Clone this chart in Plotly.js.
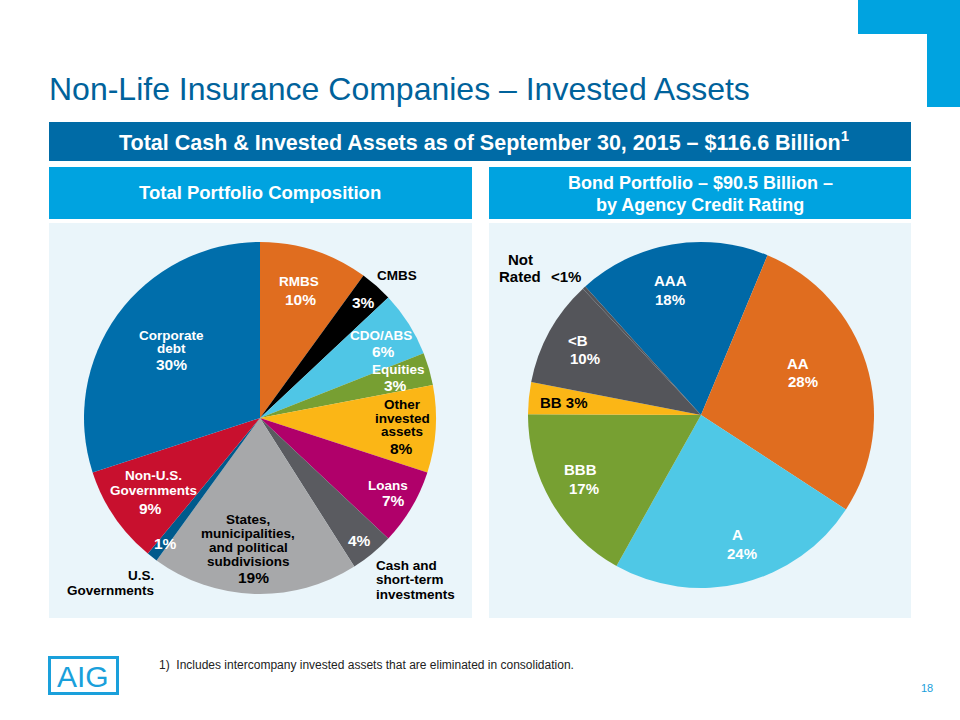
<!DOCTYPE html>
<html>
<head>
<meta charset="utf-8">
<script src="https://cdn.plot.ly/plotly-3.0.1.min.js"></script>
<style>
html,body{margin:0;padding:0;background:#ffffff;}
#chart{width:960px;height:720px;}
</style>
</head>
<body>
<div id="chart"></div>
<script>
// ---- Data ----
const portfolioLabels = ["RMBS", "CMBS", "CDO/ABS", "Equities", "Other invested assets", "Loans",
  "Cash and short-term investments", "States, municipalities, and political subdivisions",
  "U.S. Governments", "Non-U.S. Governments", "Corporate debt"];
const portfolioValues = [10, 3, 6, 3, 8, 7, 4, 19, 1, 9, 30];
const portfolioPctText = ["10%", "3%", "6%", "3%", "8%", "7%", "4%", "19%", "1%", "9%", "30%"];

const ratingLabels = ["AAA", "AA", "A", "BBB", "BB", "<B", "Not Rated"];
const ratingValues = [18, 28, 24, 17, 3, 10, 0.3];
const ratingPctText = ["18%", "28%", "24%", "17%", "3%", "10%", "<1%"];

// ---- Styling ----
const portfolioColors = ["#E06D1F", "#000000", "#4FC6E6", "#779F32", "#FBB616", "#B0006A",
  "#5A5B60", "#A7A8AA", "#005A8C", "#C8102E", "#006EAB"];
const ratingColors = ["#0069A7", "#E06D1F", "#4FC8E6", "#77A032", "#FBB616", "#54555A", "#54555A"];

const W = 960, H = 720;
const px = x => x / W;
const py = y => 1 - y / H;

const SANS = "Liberation Sans, Arial, sans-serif";

const traces = [
  {
    type: "pie", labels: portfolioLabels, values: portfolioValues, sort: false,
    direction: "clockwise", rotation: 0, textinfo: "none", hoverinfo: "skip",
    marker: {colors: portfolioColors, line: {width: 0}},
    domain: {x: [px(84), px(436)], y: [py(594), py(242)]}
  },
  {
    type: "pie", labels: ratingLabels, values: ratingValues, sort: false,
    direction: "clockwise", rotation: -42, textinfo: "none", hoverinfo: "skip",
    marker: {colors: ratingColors, line: {width: 0}},
    domain: {x: [px(528), px(874)], y: [py(588), py(242)]}
  }
];

function rect(x0, y0, x1, y1, color, line) {
  return {type: "rect", xref: "paper", yref: "paper", layer: "below",
    x0: px(x0), x1: px(x1), y0: py(y1), y1: py(y0),
    fillcolor: color, line: line || {width: 0}};
}

const shapes = [
  rect(858, 0, 960, 34, "#00A3E0"),
  rect(927, 0, 960, 107, "#00A3E0"),
  rect(49, 122, 911, 161, "#006BA6"),
  rect(49, 167, 472, 219, "#00A3E0"),
  rect(489, 167, 911, 219, "#00A3E0"),
  rect(49, 223, 472, 618, "#EAF5FA"),
  rect(489, 223, 911, 618, "#EAF5FA"),
  rect(49.5, 657.5, 117.5, 693.5, "rgba(0,0,0,0)", {color: "#1AA0DB", width: 3})
];

function ann(text, x, y, opts) {
  opts = opts || {};
  return Object.assign({
    text: text, xref: "paper", yref: "paper", x: px(x), y: py(y),
    xanchor: "center", yanchor: "middle", showarrow: false,
    font: {family: SANS, size: 14, color: "#ffffff", weight: "bold"}
  }, opts);
}
function lbl(text, x, y, color, size, extra) {
  return ann(text, x, y, Object.assign({font: {family: SANS, size: size || 13.5, color: color, weight: "bold"}}, extra || {}));
}
// one annotation per text line so the line spacing matches the reference
function lines(arr, x, ys, color, size, extra) {
  return arr.map((t, i) => lbl(t, x, ys[i], color, size, extra));
}

const WH = "#ffffff", BK = "#000000";
const L = 13.5, P = 15.5, R = 15;
const annotations = [
  // banner and headers
  ann("Total Cash & Invested Assets as of September 30, 2015 – $116.6 Billion<sup>1</sup>", 484, 141,
    {font: {family: SANS, size: 21.5, color: WH, weight: "bold"}}),
  ann("Total Portfolio Composition", 260, 193, {font: {family: SANS, size: 18.5, color: WH, weight: "bold"}}),
  ann("Bond Portfolio – $90.5 Billion –", 700, 183, {font: {family: SANS, size: 18, color: WH, weight: "bold"}}),
  ann("by Agency Credit Rating", 700, 205, {font: {family: SANS, size: 18, color: WH, weight: "bold"}}),

  // left pie labels
  lbl(portfolioLabels[0], 299, 282, WH, L), lbl(portfolioPctText[0], 300, 299, WH, P),
  lbl(portfolioLabels[1], 397, 275, BK, L), lbl(portfolioPctText[1], 363, 302, WH, P),
  lbl(portfolioLabels[2], 381, 335, WH, L), lbl(portfolioPctText[2], 383, 351, WH, P),
  lbl(portfolioLabels[3], 398, 370, WH, L), lbl(portfolioPctText[3], 395, 385, WH, P),
  ...lines(["Other", "invested", "assets"], 402, [404, 418, 431], BK, L),
  lbl(portfolioPctText[4], 401, 448, BK, P),
  lbl(portfolioLabels[5], 388, 485, WH, L), lbl(portfolioPctText[5], 393, 500, WH, P),
  lbl(portfolioPctText[6], 359, 540, WH, P),
  ...lines(["Cash and", "short-term", "investments"], 374, [565, 579, 594], BK, L, {xanchor: "left"}),
  ...lines(["States,", "municipalities,", "and political", "subdivisions"], 248, [519, 533, 547, 561], BK, L),
  lbl(portfolioPctText[7], 253, 577, BK, P),
  lbl(portfolioPctText[8], 165, 543, WH, P),
  ...lines(["U.S.", "Governments"], 156, [575, 590], BK, L, {xanchor: "right"}),
  ...lines(["Non-U.S.", "Governments"], 153, [475, 490], WH, L),
  lbl(portfolioPctText[9], 150, 508, WH, P),
  ...lines(["Corporate", "debt"], 171, [335, 348], WH, L),
  lbl(portfolioPctText[10], 171, 364, WH, P),

  // right pie labels
  ...lines(["Not", "Rated"], 520, [259, 276], BK, R),
  lbl(ratingPctText[6], 566, 276, BK, R),
  lbl(ratingLabels[0], 670, 281, WH, R), lbl(ratingPctText[0], 670, 299, WH, R),
  lbl(ratingLabels[1], 798, 363, WH, R), lbl(ratingPctText[1], 803, 381, WH, R),
  lbl(ratingLabels[2], 737, 534, WH, R), lbl(ratingPctText[2], 742, 553, WH, R),
  lbl(ratingLabels[3], 580, 469, WH, R), lbl(ratingPctText[3], 584, 488, WH, R),
  lbl(ratingLabels[4] + " " + ratingPctText[4], 564, 402, BK, R),
  lbl(ratingLabels[5], 578, 340, WH, R), lbl(ratingPctText[5], 585, 358, WH, R),

  // footer
  ann("AIG", 83, 676, {font: {family: SANS, size: 30, color: "#1AA0DB"}}),
  ann("1)  Includes intercompany invested assets that are eliminated in consolidation.", 157, 665,
    {xanchor: "left", font: {family: SANS, size: 12, color: "#222222"}}),
  ann("18", 927, 688, {font: {family: SANS, size: 11, color: "#1AA0DB"}})
];

const layout = {
  width: W, height: H,
  margin: {l: 0, r: 0, t: 0, b: 0},
  paper_bgcolor: "#ffffff",
  showlegend: false,
  title: {
    text: "Non-Life Insurance Companies – Invested Assets",
    x: px(49), xanchor: "left", xref: "paper",
    y: py(89), yanchor: "middle", yref: "paper",
    font: {family: SANS, size: 32, color: "#00629B"}
  },
  shapes: shapes,
  annotations: annotations
};

Plotly.newPlot("chart", traces, layout, {displayModeBar: false, staticPlot: true});
</script>
</body>
</html>
